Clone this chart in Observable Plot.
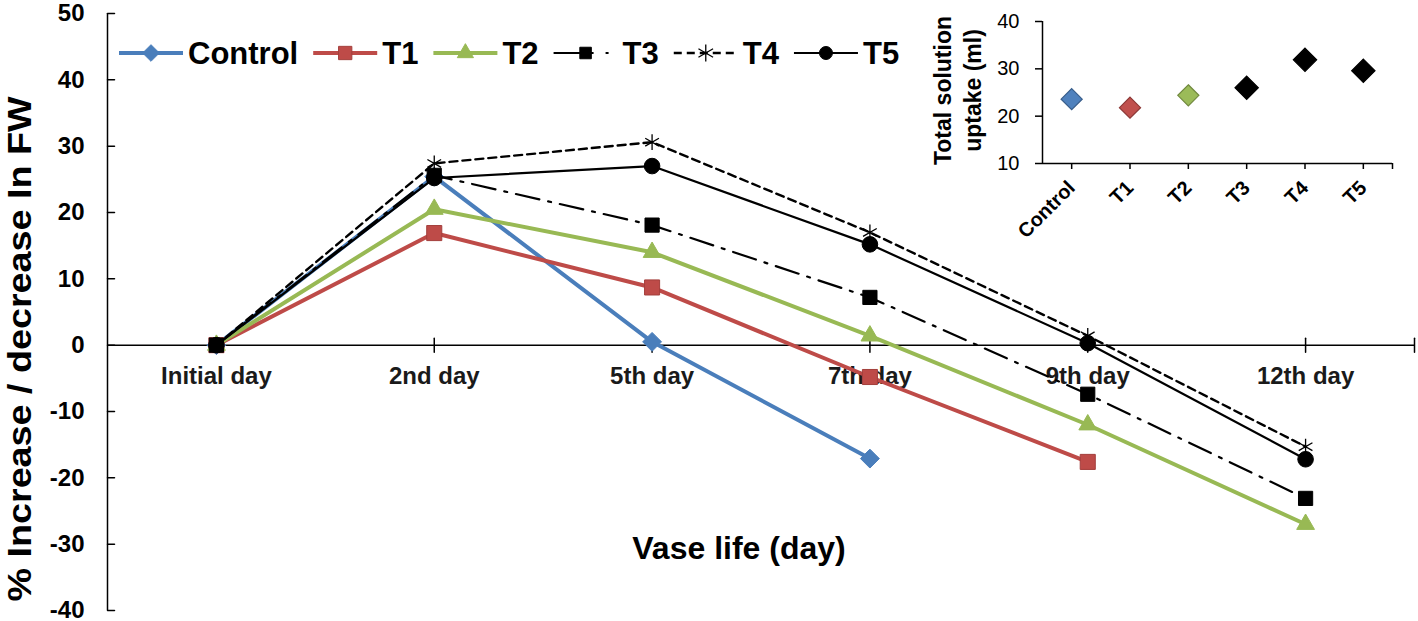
<!DOCTYPE html>
<html><head><meta charset="utf-8">
<script src="https://cdn.jsdelivr.net/npm/d3@7"></script>
<script src="https://cdn.jsdelivr.net/npm/@observablehq/plot@0.6"></script>
<style>
body{margin:0;background:#fff;}
#wrap{position:relative;width:1418px;height:621px;font-family:"Liberation Sans",Arial,sans-serif;}
#wrap > *{position:absolute;}
</style></head><body><div id="wrap"></div>
<script>
// ---------- data ----------
const days = ["Initial day", "2nd day", "5th day", "7th day", "9th day", "12th day"];
const seriesNames = ["Control", "T1", "T2", "T3", "T4", "T5"];
const control = [0, 25.4, 0.5, -17.1, null, null];
const t1 = [0, 16.9, 8.7, -4.8, -17.6, null];
const t2 = [0, 20.5, 14.0, 1.4, -12.0, -27.0];
const t3 = [0, 25.6, 18.1, 7.2, -7.4, -23.1];
const t4 = [0, 27.4, 30.6, 17.0, 1.4, -15.3];
const t5 = [0, 25.2, 27.0, 15.2, 0.3, -17.2];
const yTicks = [-40, -30, -20, -10, 0, 10, 20, 30, 40, 50];
const treatments = ["Control", "T1", "T2", "T3", "T4", "T5"];
const uptake = [23.6, 21.8, 24.4, 26.0, 31.9, 29.6];
const uptakeTicks = [10, 20, 30, 40];
const yLabel = "% Increase / decrease In FW";
const xLabel = "Vase life (day)";
const insetLabel = "Total solution\nuptake (ml)";

// ---------- styles ----------
const FONT = '"Liberation Sans", Arial, sans-serif';
const styles = {
  Control: {stroke: "#4A7EBB", width: 4, dash: null, legendDash: null, symbol: "diamond2", r: 8.5, lr: 7.5, fill: "#4A7EBB", mstroke: "#4A7EBB", msw: 1},
  T1: {stroke: "#BE4B48", width: 4, dash: null, legendDash: null, symbol: "square", r: 8.5, lr: 7.5, fill: "#BE4B48", mstroke: "#A33F3C", msw: 1},
  T2: {stroke: "#98B954", width: 4, dash: null, legendDash: null, symbol: "triangle", r: 6.6, lr: 6, fill: "#98B954", mstroke: "#98B954", msw: 1},
  T3: {stroke: "#000", width: 2.2, dash: "24,9,3,9", legendDash: "40,12,3,30", symbol: "square", r: 8, lr: 6.5, fill: "#000", mstroke: "#000", msw: 1},
  T4: {stroke: "#000", width: 2.4, dash: "8,5", legendDash: "8,5", symbol: "asterisk", r: 7.5, lr: 8, fill: "none", mstroke: "#000", msw: 1.3},
  T5: {stroke: "#000", width: 2.2, dash: null, legendDash: null, symbol: "circle", r: 7.8, lr: 6.5, fill: "#000", mstroke: "#000", msw: 1}
};
const valuesBySeries = {Control: control, T1: t1, T2: t2, T3: t3, T4: t4, T5: t5};

const rows = [];
for (const s of seriesNames) {
  valuesBySeries[s].forEach((v, i) => {
    if (v !== null) rows.push({series: s, day: days[i], idx: i, value: v});
  });
}

const tickShape = {draw(context, l) { context.moveTo(0, 0); context.lineTo(0, -l); }};
const xTickPos = days.map((d, i) => i).concat([days.length - 0.5]);

const seriesMarks = seriesNames.flatMap(s => {
  const st = styles[s];
  const data = rows.filter(r => r.series === s);
  return [
    Plot.line(data, {x: "idx", y: "value", stroke: st.stroke, strokeWidth: st.width, strokeDasharray: st.dash, strokeLinejoin: "round"}),
    Plot.dot(data, {x: "idx", y: "value", symbol: st.symbol, r: st.r, fill: st.fill, stroke: st.mstroke, strokeWidth: st.msw})
  ];
});

const main = Plot.plot({
  width: 1418, height: 621,
  marginLeft: 107, marginRight: 4, marginTop: 13, marginBottom: 11,
  style: {fontFamily: FONT, background: "transparent", color: "#000", overflow: "visible"},
  x: {domain: [-0.5, days.length - 0.5], axis: null},
  y: {domain: [-40, 50], axis: null},
  marks: [
    Plot.ruleY([0], {stroke: "#000", strokeWidth: 1.5}),
    Plot.ruleX([-0.5], {stroke: "#000", strokeWidth: 1.5}),
    Plot.axisY({ticks: yTicks, tickSize: 0, tickPadding: 23, tickFormat: d => `${d}`, fontSize: 24, fontWeight: "bold", label: null}),
    Plot.vector(yTicks, {y: d => d, frameAnchor: "left", length: 7, rotate: 90, anchor: "start", shape: tickShape, stroke: "#000", strokeWidth: 1.5}),
    Plot.vector(xTickPos, {x: d => d, y: () => 0, length: 14, rotate: 0, anchor: "middle", shape: tickShape, stroke: "#000", strokeWidth: 1.5}),
    Plot.text(days, {x: (d, i) => i, y: () => 0, dy: 31, text: d => d, fontSize: 24, fontWeight: "bold", fill: "#1a1a1a"}),
    ...seriesMarks,
    Plot.text([yLabel], {frameAnchor: "left", dx: -87, dy: 37, rotate: -90, textAnchor: "middle", lineAnchor: "middle", fontSize: 34, fontWeight: "bold", text: d => d}),
    Plot.text([xLabel], {frameAnchor: "bottom", dx: -22, dy: -62, textAnchor: "middle", lineAnchor: "middle", fontSize: 32, fontWeight: "bold", text: d => d})
  ]
});

// stretch the long y label slightly to the reference's length
d3.select(main).selectAll("text").filter(function() { return this.textContent === yLabel; })
  .attr("textLength", 505).attr("lengthAdjust", "spacingAndGlyphs");

const insetColors = {Control: ["#4F81BD", "#385D8A"], T1: ["#C0504D", "#8C3836"], T2: ["#9BBB59", "#71893F"], T3: ["#000", "#000"], T4: ["#000", "#000"], T5: ["#000", "#000"]};
const insetRows = treatments.map((t, i) => ({t, idx: i, v: uptake[i]}));

const inset = Plot.plot({
  width: 510, height: 250,
  marginLeft: 142, marginRight: 18, marginTop: 21, marginBottom: 87,
  style: {fontFamily: FONT, background: "transparent", color: "#000", overflow: "visible"},
  x: {domain: [-0.5, treatments.length - 0.5], axis: null},
  y: {domain: [10, 40], axis: null},
  r: {type: "identity"},
  marks: [
    Plot.ruleX([-0.5], {stroke: "#000", strokeWidth: 1.5}),
    Plot.ruleY([10], {stroke: "#000", strokeWidth: 1.5}),
    Plot.axisY({ticks: uptakeTicks, tickSize: 7, tickPadding: 16, strokeWidth: 1.5, tickFormat: d => `${d}`, fontSize: 20, label: null}),
    Plot.axisX({ticks: xTickPos, tickSize: 6, tickPadding: 15, strokeWidth: 1.5, tickRotate: -45, tickFormat: d => treatments[d] ?? "", fontSize: 20, fontWeight: "bold", label: null}),
    Plot.dot(insetRows, {x: "idx", y: "v", symbol: "diamond2", r: d => d.idx > 2 ? 10.5 : 9.5, fill: d => insetColors[d.t][0], stroke: d => insetColors[d.t][1], strokeWidth: 1.2}),
    Plot.text([insetLabel], {frameAnchor: "left", dx: -86, dy: -2, rotate: -90, textAnchor: "middle", lineAnchor: "middle", lineHeight: 1.3, fontSize: 23, fontWeight: "bold", text: d => d})
  ]
});

const wrap = document.getElementById("wrap");
main.style.left = "0px"; main.style.top = "0px";
wrap.appendChild(main);
inset.style.left = "900px"; inset.style.top = "0px";
wrap.appendChild(inset);

// ---------- legend (inside the plot area, top-left) ----------
const symbolMap = {diamond2: d3.symbolDiamond2, square: d3.symbolSquare, triangle: d3.symbolTriangle, asterisk: d3.symbolAsterisk, circle: d3.symbolCircle};
const legend = d3.create("svg").attr("width", 950).attr("height", 100)
  .style("left", "0px").style("top", "0px").style("overflow", "visible");
wrap.appendChild(legend.node());
let lx = 119; const ly = 53;
for (const name of seriesNames) {
  const st = styles[name];
  const g = legend.append("g");
  g.append("line").attr("x1", lx).attr("x2", lx + 64).attr("y1", ly).attr("y2", ly)
    .attr("stroke", st.stroke).attr("stroke-width", st.width).attr("stroke-dasharray", st.legendDash);
  const rr = st.lr;
  g.append("path").attr("d", d3.symbol(symbolMap[st.symbol], rr * rr * Math.PI)())
    .attr("transform", `translate(${lx + 32},${ly})`)
    .attr("fill", st.fill).attr("stroke", st.mstroke).attr("stroke-width", st.msw);
  const t = g.append("text").attr("x", lx + 69).attr("y", ly).attr("dy", "0.35em")
    .attr("font-family", FONT).attr("font-size", 31).attr("font-weight", "bold").attr("fill", "#000").text(name);
  lx = lx + 69 + t.node().getComputedTextLength() + 15;
}
</script></body></html>
